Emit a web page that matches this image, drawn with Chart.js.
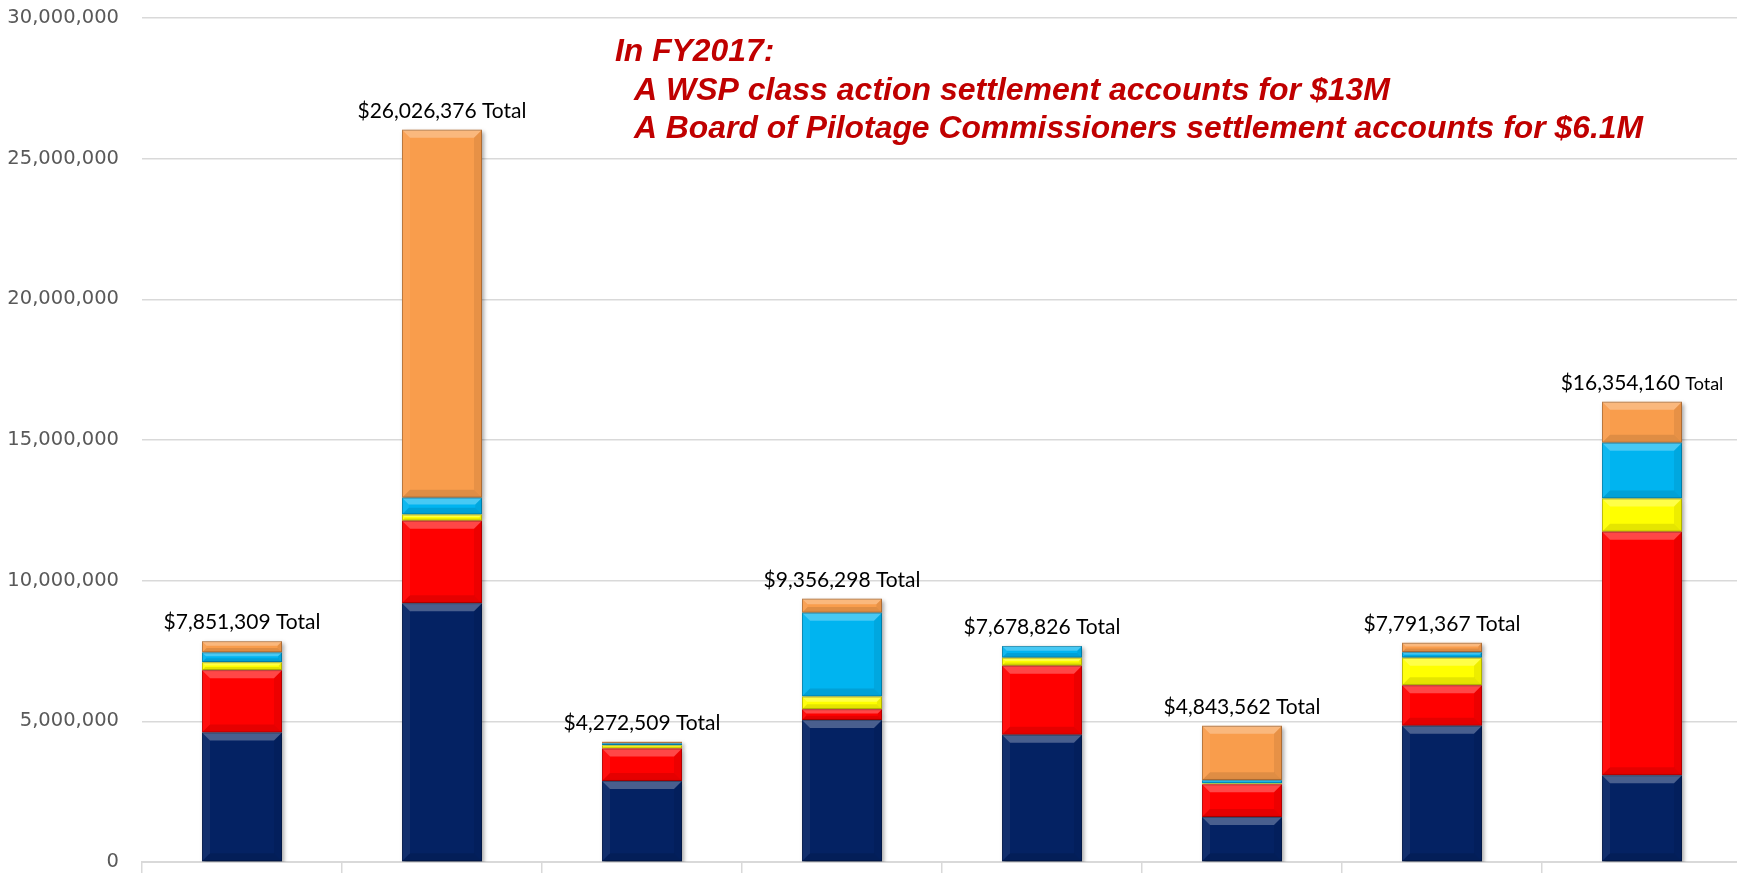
<!DOCTYPE html>
<html>
<head>
<meta charset="utf-8">
<script src="https://cdn.jsdelivr.net/npm/chart.js@4"></script>
<style>
  html, body { margin: 0; padding: 0; background: #fff; overflow: hidden; }
  #wrap { width: 1745px; height: 900px; }
</style>
</head>
<body>
<div id="wrap"><canvas id="myChart" width="1745" height="900"></canvas></div>
<script>
// years on the x axis (labels are cut off at the bottom of the picture)
const years = ['2016', '2017', '2018', '2019', '2020', '2021', '2022', '2023'];

// stacked segments, bottom to top
const navy   = [4600000, 9200000, 2880000, 5050000, 4520000, 1600000, 4840000, 3080000];
const red    = [2220000, 2930000, 1150000,  380000, 2460000, 1160000, 1440000, 8660000];
const yellow = [ 280000,  220000,  120000,  450000,  280000,   30000,  980000, 1180000];
const cyan   = [ 350000,  600000,   70000, 2980000,  420000,  120000,  200000, 1980000];
const orange = [ 400000, 13080000,   50000,  500000,       0, 1930000,  330000, 1460000];

// totals printed above each bar
const totals = [7851309, 26026376, 4272509, 9356298, 7678826, 4843562, 7791367, 16354160];

const note = [
  'In FY2017:',
  'A WSP class action settlement accounts for $13M',
  'A Board of Pilotage Commissioners settlement accounts for $6.1M'
];

const ctx = document.getElementById('myChart');

// excel style bevel on every bar segment
const bevel = {
  id: 'bevel',
  beforeDatasetDraw(chart) {
    const c = chart.ctx;
    c.save();
    c.shadowColor = 'rgba(0,0,0,0.35)';
    c.shadowBlur = 4;
    c.shadowOffsetX = 2;
    c.shadowOffsetY = 2;
  },
  afterDatasetDraw(chart, args) {
    const c = chart.ctx;
    c.restore();
    args.meta.data.forEach(function (bar) {
      const p = bar.getProps(['x', 'y', 'base', 'width'], true);
      const l = p.x - p.width / 2, r = p.x + p.width / 2;
      const t = Math.min(p.y, p.base), b = Math.max(p.y, p.base);
      const h = b - t;
      if (h < 1) return;
      const d = Math.min(8, h / 2.5);
      c.save();
      c.fillStyle = 'rgba(255,255,255,0.28)';
      c.beginPath();
      c.moveTo(l, t); c.lineTo(r, t); c.lineTo(r - d, t + d); c.lineTo(l + d, t + d);
      c.closePath(); c.fill();
      c.fillStyle = 'rgba(255,255,255,0.06)';
      c.beginPath();
      c.moveTo(l, t); c.lineTo(l + d, t + d); c.lineTo(l + d, b - d); c.lineTo(l, b);
      c.closePath(); c.fill();
      c.fillStyle = 'rgba(0,0,0,0.1)';
      c.beginPath();
      c.moveTo(l, b); c.lineTo(r, b); c.lineTo(r - d, b - d); c.lineTo(l + d, b - d);
      c.closePath(); c.fill();
      c.fillStyle = 'rgba(0,0,0,0.07)';
      c.beginPath();
      c.moveTo(r, t); c.lineTo(r - d, t + d); c.lineTo(r - d, b - d); c.lineTo(r, b);
      c.closePath(); c.fill();
      c.strokeStyle = 'rgba(0,0,0,0.25)';
      c.lineWidth = 1;
      c.strokeRect(l + 0.5, t + 0.5, r - l - 1, h - 1);
      c.restore();
    });
  }
};

// totals above the bars and the red note
const extras = {
  id: 'extras',
  afterDraw(chart) {
    const c = chart.ctx;
    const y = chart.scales.y;
    const meta = chart.getDatasetMeta(0);
    c.save();
    c.fillStyle = '#000';
    c.textBaseline = 'alphabetic';
    totals.forEach(function (v, i) {
      const x = meta.data[i].x;
      const top = y.getPixelForValue(v);
      const num = '$' + v.toLocaleString('en-US') + ' ';
      const small = i === totals.length - 1;
      c.font = '21px Lato';
      const w1 = c.measureText(num).width;
      c.font = (small ? '18px' : '21px') + ' Lato';
      const w2 = c.measureText('Total').width;
      let left = x - (w1 + w2) / 2;
      if (left + w1 + w2 > 1726) left = 1726 - w1 - w2;
      c.textAlign = 'left';
      c.font = '21px Lato';
      c.fillText(num, left, top - 12);
      c.font = (small ? '18px' : '21px') + ' Lato';
      c.fillText('Total', left + w1, top - 12);
    });

    c.fillStyle = '#C00000';
    c.font = 'italic bold 32px "Liberation Sans"';
    const spots = [[615, 61, 0], [634, 100, 756], [634, 138, 1009]];
    note.forEach(function (s, i) {
      const w = c.measureText(s).width;
      const target = spots[i][2] || w * (1009 / c.measureText(note[2]).width);
      c.save();
      c.translate(spots[i][0], spots[i][1]);
      c.scale(target / w, 1);
      c.fillText(s, 0, 0);
      c.restore();
    });
    c.restore();
  }
};

function ds(label, data, color) {
  return {
    label: label,
    data: data,
    backgroundColor: color,
    borderWidth: 0,
    barPercentage: 0.4,
    categoryPercentage: 1
  };
}

new Chart(ctx, {
  type: 'bar',
  data: {
    labels: years,
    datasets: [
      ds('Segment 1', navy, '#042263'),
      ds('Segment 2', red, '#FF0000'),
      ds('Segment 3', yellow, '#FFFF00'),
      ds('Segment 4', cyan, '#00B4F0'),
      ds('Segment 5', orange, '#F99D4C')
    ]
  },
  options: {
    responsive: false,
    animation: false,
    devicePixelRatio: 1,
    layout: { padding: { top: 18, right: 3, left: 0, bottom: 0 } },
    plugins: {
      legend: { display: false },
      tooltip: { enabled: false }
    },
    scales: {
      x: {
        stacked: true,
        grid: { offset: true, drawOnChartArea: false, tickLength: 14, color: '#D9D9D9', lineWidth: 1.5 },
        border: { color: '#D9D9D9', width: 2 },
        ticks: { color: '#595959', font: { family: 'DejaVu Sans', size: 19.5 }, padding: -4 },
        afterFit(s) { s.height = 38; }
      },
      y: {
        stacked: true,
        min: 0,
        max: 30000000,
        grid: { color: '#D9D9D9', lineWidth: 1.5, tickLength: 23, tickColor: 'rgba(0,0,0,0)' },
        border: { display: false },
        ticks: {
          stepSize: 5000000,
          color: '#595959',
          font: { family: 'DejaVu Sans', size: 19.5 },
          padding: 0,
          callback: (v) => v.toLocaleString('en-US')
        },
        afterFit(s) { s.width = 142; }
      }
    }
  },
  plugins: [bevel, extras]
});
</script>
</body>
</html>
